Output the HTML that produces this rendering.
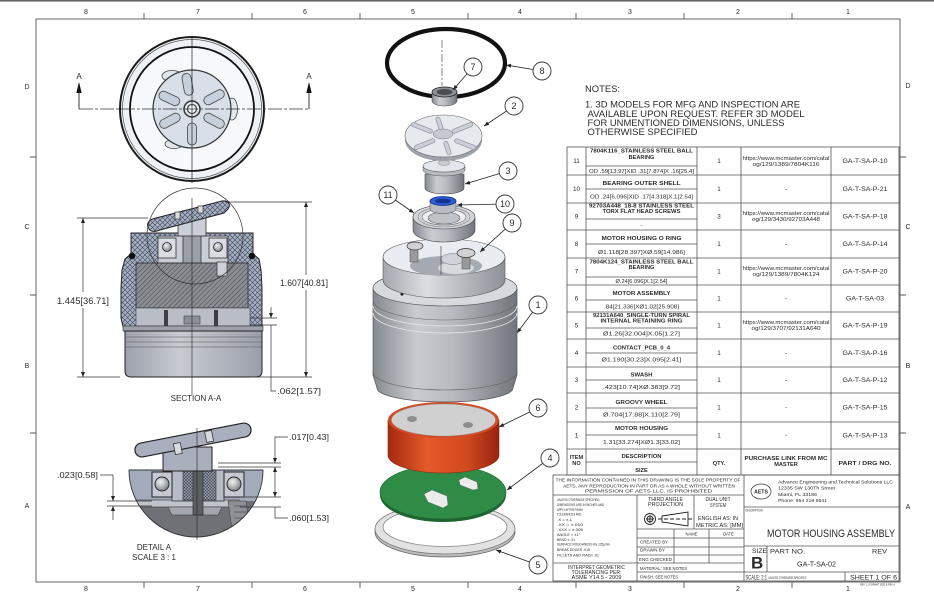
<!DOCTYPE html>
<html><head><meta charset="utf-8"><style>
html,body{margin:0;padding:0;background:#fff;}
svg{display:block;}
text{font-family:"Liberation Sans",Arial,sans-serif;fill:#2b2b2b;}
.d{font-size:5.6px;font-weight:bold;text-anchor:middle;}
.s{font-size:5.8px;text-anchor:middle;}
.n{font-size:6.3px;text-anchor:middle;}
.m{text-anchor:middle;}
.tb{font-size:4px;}
</style></head><body>
<svg width="934" height="602" viewBox="0 0 934 602" xmlns="http://www.w3.org/2000/svg">
<defs>
 <pattern id="xh" width="5" height="5" patternUnits="userSpaceOnUse">
  <rect width="5" height="5" fill="#a6afc1"/>
  <path d="M0,0L5,5M5,0L0,5" stroke="#3b4459" stroke-width="0.55"/>
 </pattern>
 <pattern id="xh2" width="3" height="3" patternUnits="userSpaceOnUse">
  <rect width="3" height="3" fill="#8f95a3"/>
  <path d="M0,0L3,3M3,0L0,3" stroke="#2e3340" stroke-width="0.45"/>
 </pattern>
 <pattern id="dh" width="3.5" height="3.5" patternUnits="userSpaceOnUse" patternTransform="rotate(45)">
  <rect width="3.5" height="3.5" fill="#8a8d93"/>
  <line x1="0" y1="0" x2="0" y2="3.5" stroke="#3c3e43" stroke-width="0.9"/>
 </pattern>
 <linearGradient id="cyl" x1="0" x2="1" y1="0" y2="0">
  <stop offset="0" stop-color="#858990"/>
  <stop offset="0.3" stop-color="#c8cbd0"/>
  <stop offset="0.55" stop-color="#b8bbc1"/>
  <stop offset="1" stop-color="#71757c"/>
 </linearGradient>
 <linearGradient id="cyl2" x1="0" x2="1" y1="0" y2="0">
  <stop offset="0" stop-color="#a3a7ae"/>
  <stop offset="0.35" stop-color="#dcdee2"/>
  <stop offset="1" stop-color="#8d9198"/>
 </linearGradient>
 <linearGradient id="red" x1="0" x2="1" y1="0" y2="0">
  <stop offset="0" stop-color="#a5290f"/>
  <stop offset="0.35" stop-color="#e45a2a"/>
  <stop offset="0.7" stop-color="#d44a20"/>
  <stop offset="1" stop-color="#982310"/>
 </linearGradient>
 <linearGradient id="gs" x1="0" x2="1" y1="0" y2="0">
  <stop offset="0" stop-color="#9ca1ab"/>
  <stop offset="0.4" stop-color="#c7cbd2"/>
  <stop offset="1" stop-color="#9a9fa9"/>
 </linearGradient>
 <radialGradient id="ball" cx="0.4" cy="0.35" r="0.65">
  <stop offset="0" stop-color="#f6f6f6"/>
  <stop offset="1" stop-color="#7f8288"/>
 </radialGradient>
 <marker id="ar" viewBox="0 0 10 10" refX="10" refY="5" markerWidth="6" markerHeight="5" markerUnits="userSpaceOnUse" orient="auto">
  <path d="M0,1L10,5L0,9Z" fill="#222"/>
 </marker>
 <clipPath id="dc"><path d="M129,470H263A67,67 0 1 1 129,470Z"/></clipPath>
</defs>

<rect width="934" height="602" fill="#fff"/>
<rect x="0" y="0" width="934" height="1.6" fill="#6a6a6a"/>

<!-- FRAME -->
<g stroke="#555" stroke-width="0.9" fill="none">
 <rect x="36" y="19" width="864" height="563"/>
 <path d="M144,13V19M252,13V19M360,13V19M468,13V19M576,13V19M684,13V19M792,13V19M144,582V588M252,582V588M360,582V588M468,582V588M576,582V588M684,582V588M792,582V588M30,157H36M30,295H36M30,433H36M900,157H906M900,295H906M900,433H906"/>
</g>
<g font-size="7" class="m">
 <text x="86" y="14" class="m">8</text><text x="198" y="14" class="m">7</text><text x="305" y="14" class="m">6</text><text x="413" y="14" class="m">5</text><text x="520" y="14" class="m">4</text><text x="630" y="14" class="m">3</text><text x="738" y="14" class="m">2</text><text x="848" y="14" class="m">1</text>
 <text x="86" y="591" class="m">8</text><text x="198" y="591" class="m">7</text><text x="305" y="591" class="m">6</text><text x="413" y="591" class="m">5</text><text x="520" y="591" class="m">4</text><text x="630" y="591" class="m">3</text><text x="738" y="591" class="m">2</text><text x="848" y="591" class="m">1</text>
 <text x="27" y="89" class="m">D</text><text x="27" y="229" class="m">C</text><text x="27" y="368" class="m">B</text><text x="27" y="508" class="m">A</text>
 <text x="908" y="88" class="m">D</text><text x="908" y="229" class="m">C</text><text x="908" y="368" class="m">B</text><text x="908" y="509" class="m">A</text>
</g>

<!-- TOP VIEW -->
<g>
 <circle cx="192" cy="109" r="72" fill="#eef2f7" stroke="#1c1c1c" stroke-width="2"/>
 <circle cx="192" cy="109" r="69.5" fill="none" stroke="#555" stroke-width="0.7"/>
 <circle cx="192" cy="109" r="62" fill="#f6f8fb" stroke="#111" stroke-width="1.8"/>
 <ellipse cx="172" cy="76" rx="10" ry="5.5" fill="#e2e6ed" stroke="#444" stroke-width="0.8"/>
 <ellipse cx="232" cy="109" rx="5.5" ry="11" fill="#e2e6ed" stroke="#444" stroke-width="0.8"/>
 <ellipse cx="174" cy="144" rx="9" ry="4.5" fill="#e2e6ed" stroke="#444" stroke-width="0.8"/>
 <circle cx="192" cy="109" r="39" fill="#d8dfe9" stroke="#333" stroke-width="1.2"/>
 <g fill="#c6cfdc" stroke="#444" stroke-width="0.8">
  <rect x="14" y="-4.5" width="22" height="9" rx="4.5" transform="translate(192 109) rotate(-100)"/>
  <rect x="14" y="-4.5" width="22" height="9" rx="4.5" transform="translate(192 109) rotate(-28)"/>
  <rect x="14" y="-4.5" width="22" height="9" rx="4.5" transform="translate(192 109) rotate(28)"/>
  <rect x="14" y="-4.5" width="22" height="9" rx="4.5" transform="translate(192 109) rotate(90)"/>
  <rect x="14" y="-4.5" width="22" height="9" rx="4.5" transform="translate(192 109) rotate(152)"/>
  <rect x="14" y="-4.5" width="22" height="9" rx="4.5" transform="translate(192 109) rotate(205)"/>
 </g>
 <circle cx="192" cy="109" r="8" fill="#e1e6ee" stroke="#333" stroke-width="1.5"/>
 <circle cx="192" cy="109" r="4.5" fill="#f2f4f7" stroke="#333" stroke-width="1.1"/>
 <line x1="192" y1="36" x2="192" y2="183" stroke="#222" stroke-width="0.7"/>
 <line x1="79" y1="109" x2="309" y2="109" stroke="#333" stroke-width="0.8" stroke-dasharray="14 2 3 2"/>
 <path d="M79,109V92M309,109V92" stroke="#222" stroke-width="0.9"/>
 <path d="M79,82L76.3,93H81.7Z M309,82L306.3,93H311.7Z" fill="#111"/>
 <text x="79" y="79" font-size="8" class="m">A</text>
 <text x="309" y="79" font-size="8" class="m">A</text>
</g>

<!-- SECTION A-A -->
<g>
 <path d="M131,233H253V254L259,259L261,270L262,288V318L262,331H124L121,318V288L122,270L125,259L131,254Z" fill="url(#xh)" stroke="#222" stroke-width="1"/>
 <rect x="158" y="236" width="70" height="27" fill="#c8cdd6" stroke="#333" stroke-width="0.7"/>
 <rect x="158" y="238" width="18" height="20" fill="#d8dce3" stroke="#333" stroke-width="0.8"/>
 <rect x="209" y="238" width="18" height="20" fill="#d8dce3" stroke="#333" stroke-width="0.8"/>
 <circle cx="167" cy="247" r="4.5" fill="url(#ball)" stroke="#222" stroke-width="0.8"/>
 <circle cx="218" cy="247" r="4.5" fill="url(#ball)" stroke="#222" stroke-width="0.8"/>
 <rect x="183" y="233" width="18" height="31" fill="#9ba0a9" stroke="#333" stroke-width="0.8"/>
 <rect x="136" y="263" width="112" height="45" fill="url(#dh)" stroke="#333" stroke-width="0.9"/>
 <rect x="136" y="308" width="114" height="18" fill="#b8bdc6" stroke="#444" stroke-width="0.6"/>
 <rect x="164" y="310" width="4" height="16" fill="#3c3f45"/>
 <rect x="214" y="310" width="4" height="16" fill="#3c3f45"/>
 <rect x="184" y="316" width="16" height="8" fill="#8a8f98" stroke="#333" stroke-width="0.5"/>
 <rect x="217" y="262" width="10" height="14" fill="#ccd0d8" stroke="#333" stroke-width="0.7"/>
 <rect x="123" y="326" width="140" height="5" fill="#9ca1ab" stroke="#333" stroke-width="0.6"/>
 <path d="M125,331H262V371Q262,377 256,377H131Q125,377 125,371Z" fill="url(#gs)" stroke="#222" stroke-width="1"/>
 <path d="M126,337H261M126,342H261M126,347H261" stroke="#555" stroke-width="0.6"/>
 <rect x="178" y="212" width="28" height="24" fill="#c9ced8" stroke="#333" stroke-width="0.8"/>
 <path d="M149,229C145,223 150,219 156,218L222,201C229,200 231,205 228,209L224,213L160,230C155,232 151,232 149,229Z" fill="url(#xh)" stroke="#222" stroke-width="1"/>
 <rect x="175" y="212" width="5" height="7" fill="#ddd" stroke="#222" stroke-width="0.6"/>
 <rect x="198" y="206" width="5" height="7" fill="#ddd" stroke="#222" stroke-width="0.6"/>
 <circle cx="132" cy="256" r="3.3" fill="#111"/>
 <circle cx="252" cy="256" r="3.3" fill="#111"/>
 <circle cx="195" cy="236" r="48" fill="none" stroke="#333" stroke-width="0.7"/>
 <line x1="192" y1="198" x2="192" y2="395" stroke="#222" stroke-width="0.6"/>
 <!-- dims -->
 <g stroke="#333" stroke-width="0.7" fill="none">
  <path d="M77,218H148M77,377H120M225,202H312M250,377H312"/>
  <line x1="83" y1="292" x2="83" y2="218" marker-end="url(#ar)"/>
  <line x1="83" y1="308" x2="83" y2="377" marker-end="url(#ar)"/>
  <line x1="306" y1="275" x2="306" y2="202" marker-end="url(#ar)"/>
  <line x1="306" y1="290" x2="306" y2="377" marker-end="url(#ar)"/>
  <path d="M250,318H277M250,325H277"/>
  <line x1="271" y1="307" x2="271" y2="318" marker-end="url(#ar)"/>
  <path d="M271,325V391H276"/>
 </g>
 <text x="83" y="304" font-size="9.2" class="m" textLength="52" lengthAdjust="spacingAndGlyphs">1.445[36.71]</text>
 <text x="304" y="286" font-size="9.2" class="m" textLength="48" lengthAdjust="spacingAndGlyphs">1.607[40.81]</text>
 <text x="277" y="394" font-size="8.3" textLength="44" lengthAdjust="spacingAndGlyphs">.062[1.57]</text>
 <text x="196" y="401" font-size="8" class="m">SECTION A-A</text>
</g>

<!-- DETAIL A -->
<g>
 <g clip-path="url(#dc)">
  <rect x="125" y="470" width="145" height="75" fill="#6f7177"/>
  <rect x="125" y="470" width="145" height="31" fill="#a3aabb"/>
  <rect x="129" y="500" width="110" height="7" fill="#bfc3cb" stroke="#333" stroke-width="0.6"/>
  <path d="M168,507H222L218,515H172Z" fill="#a2a6ae" stroke="#333" stroke-width="0.5"/>
  <path d="M228,501L246,501L250,530L232,530Z" fill="#8d9097" stroke="#333" stroke-width="0.5"/>
  <path d="M234,506H246M234,512H247M234,518H248" stroke="#333" stroke-width="0.5"/>
  <rect x="172" y="461" width="52" height="40" fill="#b5bbc7" stroke="#333" stroke-width="0.8"/>
  <rect x="183" y="465" width="33" height="35" fill="url(#xh2)" stroke="#333" stroke-width="0.6"/>
  <rect x="152" y="472" width="20" height="25" fill="#c4c9d2" stroke="#222" stroke-width="1"/>
  <rect x="224" y="472" width="20" height="25" fill="#c4c9d2" stroke="#222" stroke-width="1"/>
  <circle cx="162" cy="484" r="7" fill="url(#ball)" stroke="#222" stroke-width="0.9"/>
  <circle cx="234" cy="484" r="7" fill="url(#ball)" stroke="#222" stroke-width="0.9"/>
  <rect x="193" y="470" width="10" height="45" fill="#5b5e64" stroke="#222" stroke-width="0.6"/>
 </g>
 <path d="M129,470H263A67,67 0 1 1 129,470Z" fill="none" stroke="#333" stroke-width="0.9"/>
 <rect x="163" y="447" width="49" height="24" fill="#a9afbd" stroke="#222" stroke-width="1"/>
 <rect x="134" y="433" width="118" height="14" rx="7" fill="#a9afbd" stroke="#222" stroke-width="1.2" transform="rotate(-11 193 440)"/>
 <rect x="173" y="440" width="7" height="11" fill="#d8dbe0" stroke="#222" stroke-width="0.7" transform="rotate(-11 193 440)"/>
 <rect x="206" y="434" width="7" height="11" fill="#d8dbe0" stroke="#222" stroke-width="0.7" transform="rotate(-11 193 440)"/>
 <line x1="197" y1="428" x2="197" y2="540" stroke="#222" stroke-width="0.6"/>
 <g stroke="#333" stroke-width="0.7" fill="none">
  <path d="M107,501H152M107,506H152"/>
  <path d="M100,475H113V488"/>
  <line x1="113" y1="488" x2="113" y2="501" marker-end="url(#ar)"/>
  <line x1="113" y1="520" x2="113" y2="506" marker-end="url(#ar)"/>
  <path d="M218,463H281M218,467H281M240,497H281M240,507H281"/>
  <path d="M288,437H275V452"/>
  <line x1="275" y1="452" x2="275" y2="463" marker-end="url(#ar)"/>
  <line x1="275" y1="482" x2="275" y2="467" marker-end="url(#ar)"/>
  <line x1="275" y1="482" x2="275" y2="497" marker-end="url(#ar)"/>
  <path d="M288,518H275V507"/>
 </g>
 <text x="57" y="478" font-size="8.5" textLength="41" lengthAdjust="spacingAndGlyphs">.023[0.58]</text>
 <text x="289" y="440" font-size="8.5" textLength="40" lengthAdjust="spacingAndGlyphs">.017[0.43]</text>
 <text x="289" y="521" font-size="8.5" textLength="40" lengthAdjust="spacingAndGlyphs">.060[1.53]</text>
 <text x="154" y="550" font-size="8" class="m">DETAIL A</text>
 <text x="154" y="560" font-size="8" class="m">SCALE 3 : 1</text>
</g>

<!-- EXPLODED VIEW -->
<g>
 <ellipse cx="445" cy="532" rx="70" ry="25" fill="#bdbdbd" stroke="#666" stroke-width="0.8"/>
 <ellipse cx="445" cy="529" rx="70" ry="25" fill="#e2e2e2" stroke="#777" stroke-width="0.8"/>
 <ellipse cx="445" cy="527" rx="62" ry="19.5" fill="#fff" stroke="#888" stroke-width="0.8"/>
 <ellipse cx="443" cy="495" rx="63" ry="27" fill="#1e6631"/>
 <ellipse cx="443" cy="492" rx="63" ry="27" fill="#2f8c46" stroke="#225f30" stroke-width="0.6"/>
 <path d="M424,494L432,490L447,496L448,505L443,508L428,502Z" fill="#ececec" stroke="#666" stroke-width="0.5"/>
 <path d="M459,480L465,477L477,482L478,489L473,490L460,485Z" fill="#ececec" stroke="#666" stroke-width="0.5"/>
 <path d="M388,420V455A55.5,18 0 0 0 499,455V420Z" fill="url(#red)" stroke="#8a2410" stroke-width="0.6"/>
 <ellipse cx="443.5" cy="420" rx="55.5" ry="18" fill="#d44a22"/>
 <ellipse cx="443.5" cy="420" rx="52" ry="16" fill="#d0d0d0" stroke="#999" stroke-width="0.5"/>
 <ellipse cx="412" cy="419" rx="5" ry="3" fill="#8e8e8e"/>
 <ellipse cx="468" cy="425" rx="5" ry="3" fill="#8e8e8e"/>
 <path d="M373,288V375L377,388A68,14 0 0 0 513,388L517,375V288Z" fill="url(#cyl)" stroke="#555" stroke-width="0.7"/>
 <path d="M373,300A72,20 0 0 0 517,300M373,372A72,18 0 0 0 517,372" stroke="#666" stroke-width="0.6" fill="none"/>
 <path d="M373,306A72,20 0 0 0 517,306M373,313A72,20 0 0 0 517,313" stroke="#e6e8eb" stroke-width="0.8" fill="none"/>
 <ellipse cx="445" cy="288" rx="72" ry="18" fill="#d6d9de" stroke="#555" stroke-width="0.6"/>
 <circle cx="402" cy="294" r="1.6" fill="#222"/>
 <path d="M383,257V280A61,18 0 0 0 505,280V257Z" fill="url(#cyl2)" stroke="#555" stroke-width="0.6"/>
 <ellipse cx="444" cy="257" rx="61" ry="18" fill="#e9ecf0" stroke="#555" stroke-width="0.6"/>
 <ellipse cx="446" cy="266" rx="36" ry="10" fill="#a4a9b2"/>
 <ellipse cx="456" cy="268" rx="18" ry="6" fill="#d6d9de"/>
 <ellipse cx="453" cy="259" rx="12" ry="5.5" fill="#cfd3d9" stroke="#777" stroke-width="0.5"/>
 <line x1="441" y1="246" x2="441" y2="275" stroke="#333" stroke-width="0.6"/>
 <rect x="410" y="249" width="8" height="13" fill="#9a9a9a" stroke="#444" stroke-width="0.5"/>
 <ellipse cx="415" cy="246" rx="8" ry="4" fill="#d2d2d2" stroke="#333" stroke-width="0.7"/>
 <rect x="462" y="256" width="8" height="13" fill="#9a9a9a" stroke="#444" stroke-width="0.5"/>
 <ellipse cx="466" cy="253" rx="9" ry="4.5" fill="#d2d2d2" stroke="#333" stroke-width="0.7"/>
 <path d="M413,217V230A31,12 0 0 0 475,230V217Z" fill="url(#cyl)" stroke="#444" stroke-width="0.6"/>
 <ellipse cx="444" cy="217" rx="31" ry="12" fill="#d2d4d8" stroke="#444" stroke-width="0.6"/>
 <ellipse cx="444" cy="217" rx="26" ry="10" fill="none" stroke="#888" stroke-width="0.6"/>
 <ellipse cx="444" cy="217" rx="22" ry="8" fill="#f0f0f0" stroke="#666" stroke-width="0.6"/>
 <ellipse cx="444" cy="218" rx="16" ry="6" fill="#bfc2c7" stroke="#555" stroke-width="0.6"/>
 <path d="M430,201V209A13,4.5 0 0 0 456,209V201Z" fill="#b9bcc2" stroke="#444" stroke-width="0.5"/>
 <ellipse cx="443" cy="201" rx="13" ry="4.5" fill="#2c5fd9" stroke="#102a7a" stroke-width="0.8"/>
 <ellipse cx="443" cy="201" rx="8" ry="2.5" fill="#15348f"/>
 <path d="M425,174V188A19.5,6 0 0 0 464,188V174Z" fill="url(#cyl)" stroke="#444" stroke-width="0.6"/>
 <path d="M423,166V170A21,6 0 0 0 465,170V166Z" fill="#b5b9c0" stroke="#555" stroke-width="0.5"/>
 <ellipse cx="444" cy="166" rx="21" ry="6" fill="#e3e6eb" stroke="#555" stroke-width="0.6"/>
 <ellipse cx="444" cy="163" rx="6" ry="2.5" fill="#c8ccd2" stroke="#777" stroke-width="0.4"/>
 <path d="M405,136V140A38.5,21 0 0 0 482,140V136Z" fill="#9ea3ab"/>
 <ellipse cx="443.5" cy="136" rx="38.5" ry="21" fill="#e6e9ee" stroke="#666" stroke-width="0.6"/>
 <g stroke-linecap="round">
  <path d="M456.7,140.8L473.6,147.5M445.9,143.4L449,152.7M432.8,140.8L416.3,147.5M430.3,131.2L413.4,124.5M441.1,128.6L438,119.3M454.2,131.2L470.7,124.5" stroke="#9aa1ad" stroke-width="5"/>
  <path d="M456.7,140.8L473.6,147.5M445.9,143.4L449,152.7M432.8,140.8L416.3,147.5M430.3,131.2L413.4,124.5M441.1,128.6L438,119.3M454.2,131.2L470.7,124.5" stroke="#ccd1d9" stroke-width="3.2"/>
 </g>
 <ellipse cx="443" cy="134" rx="10" ry="5" fill="#c5cad2" stroke="#777" stroke-width="0.5"/>
 <ellipse cx="446" cy="63" rx="59" ry="34" fill="none" stroke="#111" stroke-width="4.2"/>
 <line x1="442" y1="40" x2="442" y2="86" stroke="#333" stroke-width="0.6" stroke-dasharray="8 2 2 2"/>
 <path d="M432,92V101A12.5,5 0 0 0 457,101V92Z" fill="url(#cyl)" stroke="#444" stroke-width="0.5"/>
 <ellipse cx="444.5" cy="92" rx="12.5" ry="5" fill="#8d9199" stroke="#222" stroke-width="0.8"/>
 <ellipse cx="444.5" cy="92" rx="8" ry="3" fill="#4a4d52"/>
 <g stroke="#222" stroke-width="0.8" fill="none">
  <line x1="473" y1="67" x2="453" y2="90" marker-end="url(#ar)"/>
  <line x1="542" y1="71" x2="506" y2="65" marker-end="url(#ar)"/>
  <line x1="514" y1="106" x2="484" y2="126" marker-end="url(#ar)"/>
  <line x1="508" y1="171" x2="465" y2="184" marker-end="url(#ar)"/>
  <line x1="388" y1="195" x2="414" y2="213" marker-end="url(#ar)"/>
  <line x1="505" y1="204" x2="457" y2="205" marker-end="url(#ar)"/>
  <line x1="512" y1="223" x2="480" y2="252" marker-end="url(#ar)"/>
  <line x1="538" y1="305" x2="517" y2="333" marker-end="url(#ar)"/>
  <line x1="538" y1="408" x2="499" y2="427" marker-end="url(#ar)"/>
  <line x1="550" y1="458" x2="507" y2="490" marker-end="url(#ar)"/>
  <line x1="538" y1="565" x2="496" y2="550" marker-end="url(#ar)"/>
 </g>
 <g fill="#fff" stroke="#333" stroke-width="0.9">
  <circle cx="473" cy="67" r="9"/><circle cx="542" cy="71" r="9"/><circle cx="514" cy="106" r="9"/><circle cx="508" cy="171" r="9"/><circle cx="388" cy="195" r="9"/><circle cx="505" cy="204" r="9"/><circle cx="512" cy="223" r="9"/><circle cx="538" cy="305" r="9"/><circle cx="538" cy="408" r="9"/><circle cx="550" cy="458" r="9"/><circle cx="538" cy="565" r="9"/>
 </g>
 <g font-size="9" class="m">
  <text x="473" y="70.2" class="m">7</text><text x="542" y="74.2" class="m">8</text><text x="514" y="109.2" class="m">2</text><text x="508" y="174.2" class="m">3</text><text x="388" y="198.2" class="m">11</text><text x="505" y="207.2" class="m">10</text><text x="512" y="226.2" class="m">9</text><text x="538" y="308.2" class="m">1</text><text x="538" y="411.2" class="m">6</text><text x="550" y="461.2" class="m">4</text><text x="538" y="568.2" class="m">5</text>
 </g>
</g>

<!-- NOTES -->
<g font-size="9.5">
 <text x="585" y="92" textLength="35" lengthAdjust="spacingAndGlyphs">NOTES:</text>
 <text x="585" y="107.5" textLength="215" lengthAdjust="spacingAndGlyphs">1. 3D MODELS FOR MFG AND INSPECTION ARE</text>
 <text x="587.5" y="117" textLength="217" lengthAdjust="spacingAndGlyphs">AVAILABLE UPON REQUEST. REFER 3D MODEL</text>
 <text x="587.5" y="126" textLength="197" lengthAdjust="spacingAndGlyphs">FOR UNMENTIONED DIMENSIONS, UNLESS</text>
 <text x="587.5" y="135" textLength="110" lengthAdjust="spacingAndGlyphs">OTHERWISE SPECIFIED</text>
</g>

<!-- BOM TABLE -->
<g stroke="#555" stroke-width="0.8" fill="none">
 <rect x="567" y="147" width="332" height="328"/>
 <path d="M586,147V475M697,147V475M741,147V475M831,147V475"/>
 <path d="M567,175H899M567,203H899M567,230H899M567,258H899M567,285H899M567,312H899M567,339H899M567,367H899M567,393H899M567,422H899M567,449H899"/>
 <path d="M586,166H697M586,189H697M586,219H697M586,244H697M586,277H697M586,300H697M586,328H697M586,353H697M586,380H697M586,408H697M586,435H697M586,462H697"/>
</g>
<g>
 <text x="641.5" y="152.5" class="d" textLength="103" lengthAdjust="spacingAndGlyphs">7804K116_STAINLESS STEEL BALL</text>
 <text x="641.5" y="159" class="d">BEARING</text>
 <text x="641.5" y="173" class="s" textLength="105" lengthAdjust="spacingAndGlyphs">OD .59[13.97]XID .31[7.874]X .16[25.4]</text>
 <text x="641.5" y="185" class="d" textLength="78" lengthAdjust="spacingAndGlyphs">BEARING OUTER SHELL</text>
 <text x="641.5" y="198.5" class="s" textLength="103" lengthAdjust="spacingAndGlyphs">OD .24[6.096]XID .17[4.318]X.1[2.54]</text>
 <text x="641.5" y="207.5" class="d" textLength="105" lengthAdjust="spacingAndGlyphs">92703A448_18-8 STAINLESS STEEL</text>
 <text x="641.5" y="213" class="d" textLength="78" lengthAdjust="spacingAndGlyphs">TORX FLAT HEAD SCREWS</text>
 <text x="641.5" y="227" class="s">-</text>
 <text x="641.5" y="240" class="d" textLength="80" lengthAdjust="spacingAndGlyphs">MOTOR HOUSING O RING</text>
 <text x="641.5" y="254" class="s" textLength="87" lengthAdjust="spacingAndGlyphs">Ø1.118[28.397]XØ.59[14.986]</text>
 <text x="641.5" y="263.5" class="d" textLength="104" lengthAdjust="spacingAndGlyphs">7804K124_STAINLESS STEEL BALL</text>
 <text x="641.5" y="269" class="d">BEARING</text>
 <text x="641.5" y="283" class="s" textLength="52" lengthAdjust="spacingAndGlyphs">Ø.24[6.096]X.1[2.54]</text>
 <text x="641.5" y="295" class="d" textLength="58" lengthAdjust="spacingAndGlyphs">MOTOR ASSEMBLY</text>
 <text x="641.5" y="308.5" class="s" textLength="75" lengthAdjust="spacingAndGlyphs">.84[21.336]XØ1.02[25.908]</text>
 <text x="641.5" y="317" class="d" textLength="97" lengthAdjust="spacingAndGlyphs">92131A640_SINGLE-TURN SPIRAL</text>
 <text x="641.5" y="322.5" class="d" textLength="82" lengthAdjust="spacingAndGlyphs">INTERNAL RETAINING RING</text>
 <text x="641.5" y="335.5" class="s" textLength="77" lengthAdjust="spacingAndGlyphs">Ø1.26[32.004]X.05[1.27]</text>
 <text x="641.5" y="349.5" class="d" textLength="57" lengthAdjust="spacingAndGlyphs">CONTACT_PCB_0_4</text>
 <text x="641.5" y="361.5" class="s" textLength="80" lengthAdjust="spacingAndGlyphs">Ø1.190[30.23]X.095[2.41]</text>
 <text x="641.5" y="376.5" class="d" textLength="22" lengthAdjust="spacingAndGlyphs">SWASH</text>
 <text x="641.5" y="389" class="s" textLength="77" lengthAdjust="spacingAndGlyphs">.423[10.74]XØ.383[9.72]</text>
 <text x="641.5" y="404" class="d" textLength="52" lengthAdjust="spacingAndGlyphs">GROOVY WHEEL</text>
 <text x="641.5" y="416.5" class="s" textLength="77" lengthAdjust="spacingAndGlyphs">Ø.704[17.88]X.110[2.79]</text>
 <text x="641.5" y="430" class="d" textLength="53" lengthAdjust="spacingAndGlyphs">MOTOR HOUSING</text>
 <text x="641.5" y="444" class="s" textLength="77" lengthAdjust="spacingAndGlyphs">1.31[33.274]XØ1.3[33.02]</text>
 <text x="641.5" y="458" class="d" textLength="40" lengthAdjust="spacingAndGlyphs">DESCRIPTION</text>
 <text x="641.5" y="472" class="d">SIZE</text>
 <text x="576.5" y="459" class="d">ITEM</text>
 <text x="576.5" y="465" class="d">NO</text>
 <text x="719" y="465" class="d">QTY.</text>
 <text x="786" y="460" class="d" textLength="83" lengthAdjust="spacingAndGlyphs">PURCHASE LINK FROM MC</text>
 <text x="786" y="466" class="d">MASTER</text>
 <text x="865" y="465" class="d" textLength="53" lengthAdjust="spacingAndGlyphs">PART / DRG NO.</text>
 <g class="n">
  <text x="576.5" y="163" class="n">11</text><text x="576.5" y="191" class="n">10</text><text x="576.5" y="218.5" class="n">9</text><text x="576.5" y="246" class="n">8</text><text x="576.5" y="273.5" class="n">7</text><text x="576.5" y="300.5" class="n">6</text><text x="576.5" y="327.5" class="n">5</text><text x="576.5" y="355" class="n">4</text><text x="576.5" y="382" class="n">3</text><text x="576.5" y="409.5" class="n">2</text><text x="576.5" y="437.5" class="n">1</text>
  <text x="719" y="163" class="n">1</text><text x="719" y="191" class="n">1</text><text x="719" y="218.5" class="n">3</text><text x="719" y="246" class="n">1</text><text x="719" y="273.5" class="n">1</text><text x="719" y="300.5" class="n">1</text><text x="719" y="327.5" class="n">1</text><text x="719" y="355" class="n">1</text><text x="719" y="382" class="n">1</text><text x="719" y="409.5" class="n">1</text><text x="719" y="437.5" class="n">1</text>
  <text x="786" y="191" class="n">-</text><text x="786" y="246" class="n">-</text><text x="786" y="300.5" class="n">-</text><text x="786" y="355" class="n">-</text><text x="786" y="382" class="n">-</text><text x="786" y="409.5" class="n">-</text><text x="786" y="437.5" class="n">-</text>
 </g>
 <g class="s">
  <text x="786" y="160" class="s" textLength="87" lengthAdjust="spacingAndGlyphs">https://www.mcmaster.com/catal</text>
  <text x="786" y="166" class="s" textLength="67" lengthAdjust="spacingAndGlyphs">og/129/1389/7804K116</text>
  <text x="786" y="215" class="s" textLength="87" lengthAdjust="spacingAndGlyphs">https://www.mcmaster.com/catal</text>
  <text x="786" y="221" class="s" textLength="68" lengthAdjust="spacingAndGlyphs">og/129/3430/92703A448</text>
  <text x="786" y="270" class="s" textLength="87" lengthAdjust="spacingAndGlyphs">https://www.mcmaster.com/catal</text>
  <text x="786" y="276" class="s" textLength="67" lengthAdjust="spacingAndGlyphs">og/129/1389/7804K124</text>
  <text x="786" y="324" class="s" textLength="87" lengthAdjust="spacingAndGlyphs">https://www.mcmaster.com/catal</text>
  <text x="786" y="330" class="s" textLength="69" lengthAdjust="spacingAndGlyphs">og/129/3707/92131A640</text>
 </g>
 <g>
  <text x="865" y="163" class="n" textLength="45" lengthAdjust="spacingAndGlyphs">GA-T-SA-P-10</text>
  <text x="865" y="191" class="n" textLength="45" lengthAdjust="spacingAndGlyphs">GA-T-SA-P-21</text>
  <text x="865" y="218.5" class="n" textLength="45" lengthAdjust="spacingAndGlyphs">GA-T-SA-P-18</text>
  <text x="865" y="246" class="n" textLength="45" lengthAdjust="spacingAndGlyphs">GA-T-SA-P-14</text>
  <text x="865" y="273.5" class="n" textLength="45" lengthAdjust="spacingAndGlyphs">GA-T-SA-P-20</text>
  <text x="865" y="300.5" class="n" textLength="38" lengthAdjust="spacingAndGlyphs">GA-T-SA-03</text>
  <text x="865" y="327.5" class="n" textLength="45" lengthAdjust="spacingAndGlyphs">GA-T-SA-P-19</text>
  <text x="865" y="355" class="n" textLength="45" lengthAdjust="spacingAndGlyphs">GA-T-SA-P-16</text>
  <text x="865" y="382" class="n" textLength="45" lengthAdjust="spacingAndGlyphs">GA-T-SA-P-12</text>
  <text x="865" y="409.5" class="n" textLength="45" lengthAdjust="spacingAndGlyphs">GA-T-SA-P-15</text>
  <text x="865" y="437.5" class="n" textLength="45" lengthAdjust="spacingAndGlyphs">GA-T-SA-P-13</text>
 </g>
</g>

<!-- TITLE BLOCK -->
<g stroke="#555" stroke-width="0.8" fill="none">
 <rect x="553" y="475" width="346" height="106"/>
 <path d="M744,475V581M553,495H744M637,495V581M694,495V529M674,529V563M709,529V563M637,529H744M637,538H744M637,547H744M637,555H744M553,563H744M637,572H744"/>
 <path d="M744,507H899M744,546H899M744,572H899M767,546V572M845,572V581"/>
</g>
<g fill="#333">
 <text x="648" y="481.5" font-size="4.6" class="m" textLength="185" lengthAdjust="spacingAndGlyphs">THE INFORMATION CONTAINED IN THIS DRAWING IS THE SOLE PROPERTY OF</text>
 <text x="649" y="487.3" font-size="4.6" class="m" textLength="172" lengthAdjust="spacingAndGlyphs">AETS. ANY REPRODUCTION IN PART OR AS A WHOLE WITHOUT WRITTEN</text>
 <text x="648.5" y="492.5" font-size="4.6" class="m" textLength="127" lengthAdjust="spacingAndGlyphs">PERMISSION OF AETS LLC. IS PROHIBITED</text>
 <g class="tb">
  <text x="557" y="500.8" class="tb" textLength="43" lengthAdjust="spacingAndGlyphs">UNLESS OTHERWISE SPECIFIED:</text>
  <text x="557" y="505.8" class="tb" textLength="47" lengthAdjust="spacingAndGlyphs">DIMENSIONS ARE IN INCHES AND</text>
  <text x="557" y="510.8" class="tb" textLength="26" lengthAdjust="spacingAndGlyphs">APPLY AFTER FINISH</text>
  <text x="557" y="515.5" class="tb" textLength="25" lengthAdjust="spacingAndGlyphs">TOLERANCES ARE:</text>
  <text x="557" y="520.8" class="tb" textLength="15" lengthAdjust="spacingAndGlyphs">.X  = ±.1</text>
  <text x="557" y="525.8" class="tb" textLength="26" lengthAdjust="spacingAndGlyphs">.XX  = ±.010</text>
  <text x="557" y="530.8" class="tb" textLength="26" lengthAdjust="spacingAndGlyphs">.XXX  = ±.005</text>
  <text x="557" y="535.8" class="tb" textLength="23" lengthAdjust="spacingAndGlyphs">ANGLE  = ±1°</text>
  <text x="557" y="540.8" class="tb" textLength="18" lengthAdjust="spacingAndGlyphs">BEND ± .01</text>
  <text x="557" y="545.5" class="tb" textLength="53" lengthAdjust="spacingAndGlyphs">SURFACE ROUGHNESS Ra 125μmin</text>
  <text x="557" y="550.8" class="tb" textLength="33" lengthAdjust="spacingAndGlyphs">BREAK EDGES .015</text>
  <text x="557" y="556.5" class="tb" textLength="42" lengthAdjust="spacingAndGlyphs">FILLETS AND RADII .01</text>
 </g>
 <text x="596.5" y="569" font-size="5.5" class="m" textLength="57" lengthAdjust="spacingAndGlyphs">INTERPRET GEOMETRIC</text>
 <text x="596.5" y="574" font-size="5.5" class="m" textLength="50" lengthAdjust="spacingAndGlyphs">TOLERANCING PER:</text>
 <text x="596.5" y="579" font-size="5.5" class="m" textLength="50" lengthAdjust="spacingAndGlyphs">ASME Y14.5 - 2009</text>
 <text x="665.5" y="501" font-size="5.5" class="m" textLength="35" lengthAdjust="spacingAndGlyphs">THIRD ANGLE</text>
 <text x="665.5" y="506" font-size="5.5" class="m" textLength="35" lengthAdjust="spacingAndGlyphs">PROJECTION</text>
 <text x="718" y="501" font-size="5.5" class="m" textLength="25" lengthAdjust="spacingAndGlyphs">DUAL UNIT</text>
 <text x="718" y="507" font-size="5.5" class="m" textLength="16" lengthAdjust="spacingAndGlyphs">SYSTEM</text>
 <text x="718" y="520" font-size="5.5" class="m" textLength="40" lengthAdjust="spacingAndGlyphs">ENGLISH AS: IN</text>
 <text x="719.5" y="527" font-size="5.5" class="m" textLength="47" lengthAdjust="spacingAndGlyphs">METRIC AS: [MM]</text>
 <text x="691.5" y="535.5" font-size="4.2" class="m">NAME</text>
 <text x="728.5" y="535.5" font-size="4.2" class="m">DATE</text>
 <text x="640" y="543.3" font-size="4.2" textLength="28" lengthAdjust="spacingAndGlyphs">CREATED BY</text>
 <text x="640" y="551.7" font-size="4.2" textLength="25" lengthAdjust="spacingAndGlyphs">DRAWN BY</text>
 <text x="639" y="560.8" font-size="4.2" textLength="33" lengthAdjust="spacingAndGlyphs">ENG CHECKED</text>
 <text x="640" y="569.8" font-size="4.2" textLength="47" lengthAdjust="spacingAndGlyphs">MATERIAL: SEE NOTES</text>
 <text x="640" y="578.3" font-size="4.2" textLength="38" lengthAdjust="spacingAndGlyphs">FINISH: SEE NOTES</text>
</g>
<g fill="none" stroke="#222" stroke-width="0.9">
 <circle cx="650" cy="519" r="5.5"/>
 <circle cx="650" cy="519" r="3"/>
 <path d="M646,519H654M650,515V523"/>
 <path d="M662,516L688,512V526L662,522Z"/>
 <path d="M658,519H694" stroke-dasharray="4 2"/>
</g>
<g fill="#333">
 <ellipse cx="761" cy="491.5" rx="10" ry="7.5" fill="#fff" stroke="#333" stroke-width="0.7"/>
 <text x="761" y="493.3" font-size="5.2" class="m" font-weight="bold">AETS</text>
 <text x="778" y="483.5" font-size="4.8" textLength="115" lengthAdjust="spacingAndGlyphs">Advance Engineering and Technical Solutions LLC</text>
 <text x="778" y="489.5" font-size="4.8" textLength="57" lengthAdjust="spacingAndGlyphs">12335 SW 130Th Street</text>
 <text x="778" y="495.8" font-size="4.8" textLength="39" lengthAdjust="spacingAndGlyphs">Miami, FL 33186</text>
 <text x="778" y="501.8" font-size="4.8" textLength="49" lengthAdjust="spacingAndGlyphs">Phone: 954 218 9541</text>
 <text x="745.5" y="511.5" font-size="3.8" textLength="17" lengthAdjust="spacingAndGlyphs">DESCRIPTION</text>
 <text x="767" y="537" font-size="11" textLength="128" lengthAdjust="spacingAndGlyphs">MOTOR HOUSING ASSEMBLY</text>
 <text x="752" y="553" font-size="6.5" textLength="15" lengthAdjust="spacingAndGlyphs">SIZE</text>
 <text x="770" y="553.5" font-size="6.5" textLength="35" lengthAdjust="spacingAndGlyphs">PART NO.</text>
 <text x="872" y="553.5" font-size="6.5" textLength="15" lengthAdjust="spacingAndGlyphs">REV</text>
 <text x="751" y="568.5" font-size="17" font-weight="bold" fill="#111">B</text>
 <text x="816.5" y="566.5" font-size="7.2" class="m" textLength="39" lengthAdjust="spacingAndGlyphs">GA-T-SA-02</text>
 <text x="745.5" y="579.5" font-size="6" textLength="21.5" lengthAdjust="spacingAndGlyphs">SCALE: 2:1</text>
 <text x="768.5" y="579" font-size="3.6" textLength="38" lengthAdjust="spacingAndGlyphs">UNLESS OTHERWISE SPECIFIED</text>
 <text x="850" y="579.5" font-size="6" textLength="47" lengthAdjust="spacingAndGlyphs">SHEET 1 OF 6</text>
 <text x="860" y="585.5" font-size="2.8" fill="#777" textLength="35" lengthAdjust="spacingAndGlyphs">REV 1.1 FORMAT SIZE B REV A</text>
</g>
</svg>
</body></html>
